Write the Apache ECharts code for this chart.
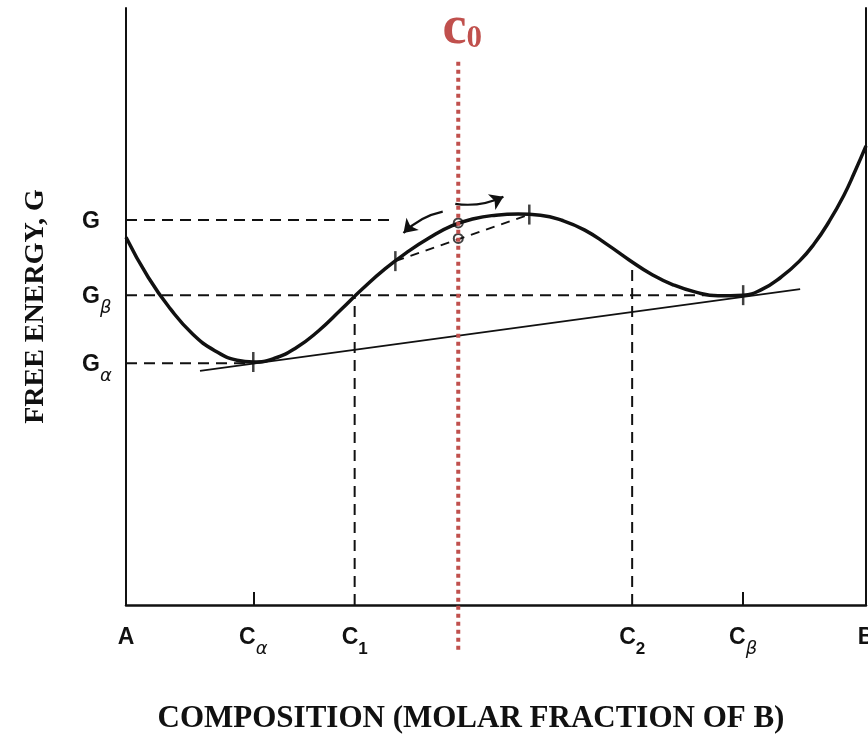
<!DOCTYPE html>
<html>
<head>
<meta charset="utf-8">
<script src="https://cdn.jsdelivr.net/npm/echarts@6/dist/echarts.min.js"></script>
<style>
	html, body { margin: 0; padding: 0; background: #fff; }
	#FreeEnergy { width: 868px; height: 746px; }
</style>
</head>
<body>
<div id="FreeEnergy"></div>
<script>
	// == 成分坐标 (0 = A, 1 = B) ==
	const compTicks = [0, 0.172, 0.309, 0.684, 0.834, 1];
	const compLabels = ['A', 'C|α', 'C|1', 'C|2', 'C|β', 'B'];
	// == 自由能水平 ==
	const gLevels = [64.5, 51.9, 40.5];
	const gLabels = ['G', 'G|β', 'G|α'];
	// == 自由能曲线 ==
	const curveX = [0, 0.03, 0.06, 0.09, 0.12, 0.15, 0.172, 0.2, 0.23, 0.26, 0.29, 0.32, 0.35, 0.38, 0.41, 0.44, 0.47, 0.5, 0.53, 0.56, 0.59, 0.62, 0.65, 0.68, 0.71, 0.74, 0.77, 0.8, 0.834, 0.86, 0.885, 0.91, 0.93, 0.95, 0.97, 0.985, 1];
	const curveY = [61.6, 54.9, 49.6, 45.4, 42.6, 41.0, 40.7, 41.3, 43.1, 45.9, 49.4, 53.0, 56.3, 59.1, 61.5, 63.5, 64.7, 65.3, 65.5, 65.3, 64.4, 62.8, 60.4, 57.8, 55.4, 53.6, 52.4, 51.8, 51.9, 52.9, 54.9, 57.6, 60.5, 64.2, 68.6, 72.6, 76.9];
	// == 公切线 ==
	const tangentX = [0.1, 0.911];
	const tangentY = [39.2, 52.9];
	// == 弦 ==
	const chordX = [0.364, 0.545];
	const chordY = [57.6, 65.4];
	// == 水平虚线终点 ==
	const gDashEnd = [0.36, 0.834, 0.172];
	// == 竖直虚线 C1, C2 ==
	const dropX = [0.309, 0.684];
	const dropTop = [51.9, 57.4];
	// == 曲线上的刻度 ==
	const markX = [0.172, 0.364, 0.545, 0.834];
	const markY = [40.7, 57.6, 65.4, 51.9];
	// == c0 ==
	const c0 = 0.449;
	const c0Span = [91, -7.5];
	const c0Points = [64.0, 61.4];
	// == 箭头 ==
	const arrowFrom = [[0.445, 67.2], [0.428, 65.9]];
	const arrowTo = [[0.51, 68.4], [0.375, 62.3]];

	const ink = '#111';
	const red = '#c0504d';
	const zip = (xs, ys) => xs.map((x, i) => [x, ys[i]]);
	// 下标样式
	const subRich = (top) => ({
		m: { fontSize: 23, fontFamily: 'Liberation Sans', fontWeight: 'bold', color: ink, lineHeight: 28, padding: [top, 0, 0, 0], verticalAlign: 'top' },
		s: { fontSize: 17, fontFamily: 'Liberation Sans', fontWeight: 'bold', color: ink, lineHeight: 20, padding: [top + 15, 0, 0, 0], verticalAlign: 'top' },
		g: { fontSize: 18, fontFamily: 'DejaVu Sans', fontStyle: 'italic', color: ink, lineHeight: 20, padding: [top + 14, 0, 0, 0], verticalAlign: 'top' },
	});
	const richText = (t) => {
		const p = t.split('|');
		if (p.length < 2) return '{m|' + p[0] + '}';
		const key = /[0-9]/.test(p[1]) ? 's' : 'g';
		return '{m|' + p[0] + '}{' + key + '|' + p[1] + '}';
	};
	const dash = { color: ink, width: 2, type: [11, 7] };

	const series = [];
	// 曲线
	series.push({
		type: 'line', data: zip(curveX, curveY), smooth: 0.5, showSymbol: false,
		lineStyle: { color: ink, width: 3.5 }, z: 5,
	});
	// 公切线
	series.push({
		type: 'line', data: zip(tangentX, tangentY), showSymbol: false,
		lineStyle: { color: ink, width: 1.8 },
	});
	// 弦
	series.push({
		type: 'line', data: zip(chordX, chordY), showSymbol: false,
		lineStyle: { color: ink, width: 2, type: [9, 7] },
	});
	// 水平虚线
	gLevels.forEach((g, i) => {
		series.push({
			type: 'line', data: [[0, g], [gDashEnd[i], g]], showSymbol: false, lineStyle: dash,
		});
	});
	// 竖直虚线
	dropX.forEach((x, i) => {
		series.push({
			type: 'line', data: [[x, 0], [x, dropTop[i]]], showSymbol: false, lineStyle: dash,
		});
	});
	// 刻度
	series.push({
		type: 'scatter', data: zip(markX, markY), symbol: 'rect', symbolSize: [2.5, 20],
		itemStyle: { color: ink }, z: 6,
	});
	// c0 处的两点
	series.push({
		type: 'scatter', data: c0Points.map((y) => [c0, y]), symbol: 'circle', symbolSize: 9,
		itemStyle: { color: 'rgba(255,255,255,0)', borderColor: ink, borderWidth: 2 }, z: 6,
	});
	// 箭头
	series.push({
		type: 'lines', coordinateSystem: 'cartesian2d',
		data: arrowFrom.map((f, i) => ({ coords: [f, arrowTo[i]] })),
		symbol: ['none', 'arrow'], symbolSize: 13,
		lineStyle: { color: ink, width: 2.2, opacity: 1, curveness: -0.15 }, z: 6,
	});
	// c0 红色点线
	series.push({
		type: 'line', clip: false, data: c0Span.map((y) => [c0, y]), showSymbol: false, symbol: 'none',
		lineStyle: { color: red, width: 4, type: [4, 4] }, z: 8,
		markPoint: {
			symbol: 'circle', symbolSize: 0,
			data: [{ coord: [c0, c0Span[0]] }],
			label: {
				show: true, position: 'top', distance: 7, offset: [4, 0],
				formatter: '{c|c}{s|0}',
				rich: {
					c: { fontSize: 54, fontFamily: 'Liberation Serif', fontWeight: 'bold', color: red, lineHeight: 52 },
					s: { fontSize: 31, fontFamily: 'Liberation Serif', fontWeight: 'bold', color: red, lineHeight: 30, verticalAlign: 'bottom' },
				},
			},
		},
	});

	const option = {
		animation: false,
		backgroundColor: '#fff',
		grid: { left: 126, right: 2, top: 8, bottom: 141, outerBoundsMode: 'none', containLabel: false },
		xAxis: {
			type: 'value', min: 0, max: 1,
			name: 'COMPOSITION (MOLAR FRACTION OF B)',
			nameLocation: 'middle', nameGap: 98,
			nameTextStyle: { fontFamily: 'Liberation Serif', fontWeight: 'bold', fontSize: 31, color: ink, padding: [0, 50, 0, 0] },
			axisLine: { onZero: false, lineStyle: { color: ink, width: 2.5 } },
			axisTick: { show: true, inside: true, length: 13, customValues: [0.172, 0.834], lineStyle: { color: ink, width: 2 } },
			axisLabel: {
				customValues: compTicks, margin: 13, showMinLabel: true, showMaxLabel: true, hideOverlap: false,
				formatter: (v) => richText(compLabels[compTicks.indexOf(v)] || ''),
				rich: subRich(8),
			},
			splitLine: { show: false },
		},
		yAxis: [
			{
				type: 'value', min: 0, max: 100,
				name: 'FREE ENERGY, G', nameLocation: 'middle', nameGap: 76,
				nameTextStyle: { fontFamily: 'Liberation Serif', fontWeight: 'bold', fontSize: 28, color: ink },
				axisLine: { show: true, onZero: false, lineStyle: { color: ink, width: 2 } },
				axisTick: { show: false },
				axisLabel: {
					customValues: gLevels, align: 'left', margin: 44,
					formatter: (v) => richText(gLabels[gLevels.indexOf(v)] || ''),
					rich: subRich(4),
				},
				splitLine: { show: false },
			},
			{
				type: 'value', min: 0, max: 100, position: 'right',
				axisLine: { show: true, onZero: false, lineStyle: { color: ink, width: 2 } },
				axisTick: { show: false }, axisLabel: { show: false }, splitLine: { show: false },
			},
		],
		series: series,
	};

	const myChart = echarts.init(document.getElementById('FreeEnergy'));
	myChart.setOption(option);
</script>
</body>
</html>
